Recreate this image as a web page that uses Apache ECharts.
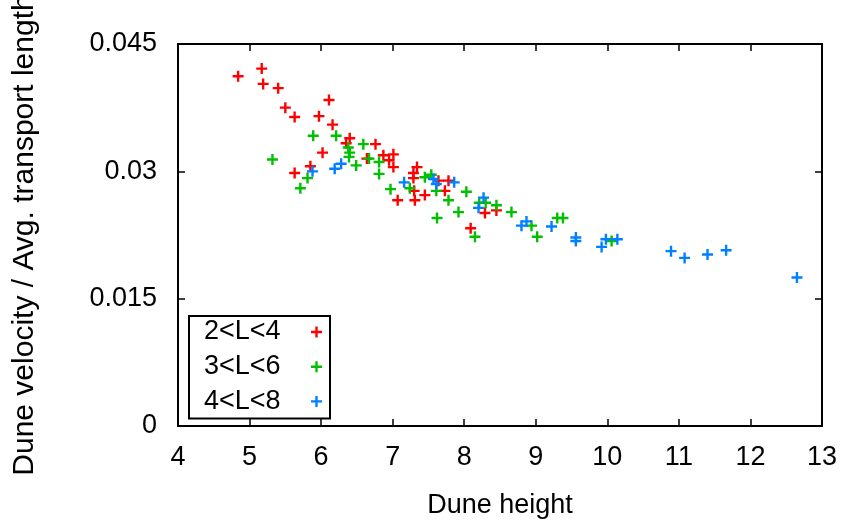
<!DOCTYPE html>
<html>
<head>
<meta charset="utf-8">
<script src="https://cdn.jsdelivr.net/npm/echarts@6/dist/echarts.min.js"></script>
<style>html,body{margin:0;padding:0;background:#fff}#c{width:842px;height:526px}</style>
</head>
<body>
<div id="c"></div>
<script>
const seriesNames = ['2<L<4', '3<L<6', '4<L<8'];
const seriesColors = ['#ff0000', '#00c000', '#0080ff'];
const xTicks = [4, 5, 6, 7, 8, 9, 10, 11, 12, 13];
const yTicks = [0, 0.015, 0.03, 0.045];

const red = [
  [4.84,0.0412],[5.17,0.0421],[5.19,0.0403],[5.40,0.0398],[5.50,0.0375],[5.63,0.0364],
  [6.11,0.0384],[5.97,0.0365],[6.16,0.0355],[6.40,0.0339],[6.35,0.0333],[6.02,0.0322],
  [6.76,0.0332],[5.85,0.0306],[5.63,0.0298],[6.64,0.0315],[6.87,0.0319],[6.95,0.0313],
  [7.01,0.0320],[7.01,0.0305],[7.07,0.0266],[7.34,0.0305],[7.29,0.0298],[7.29,0.0292],
  [7.64,0.0289],[7.78,0.0289],[7.73,0.0277],[7.30,0.0277],[7.31,0.0266],[7.45,0.0272],
  [8.29,0.0251],[8.45,0.0254],[8.09,0.0233]
];
const green = [
  [5.32,0.0314],[5.89,0.0342],[6.21,0.0342],[6.38,0.0328],[6.40,0.0322],[6.39,0.0317],
  [6.49,0.0307],[6.59,0.0332],[6.67,0.0315],[6.81,0.0311],[6.81,0.0297],[6.97,0.0279],
  [5.81,0.0292],[5.71,0.0280],[7.24,0.0280],[7.45,0.0293],[7.54,0.0296],[7.61,0.0277],
  [7.78,0.0266],[7.92,0.0252],[8.03,0.0276],[7.62,0.0245],[8.21,0.0263],[8.30,0.0263],
  [8.45,0.0260],[8.66,0.0252],[8.15,0.0223],[8.94,0.0236],[9.02,0.0223],[9.30,0.0245],
  [9.38,0.0245],[10.06,0.0218]
];
const blue = [
  [5.88,0.0300],[6.19,0.0303],[6.28,0.0309],[7.16,0.0287],[7.57,0.0291],[7.61,0.0285],
  [7.86,0.0287],[8.27,0.0269],[8.20,0.0257],[8.87,0.0241],[8.80,0.0236],[9.22,0.0235],
  [9.56,0.0222],[9.56,0.0218],[9.92,0.0211],[9.98,0.0220],[10.14,0.0220],[10.89,0.0206],
  [11.08,0.0198],[11.40,0.0202],[11.66,0.0207],[12.65,0.0175]
];
const allData = [red, green, blue];

const FONT = 'Liberation Sans, Arial, sans-serif';
const plus = 'path://M4.3,0H6.7V4.3H11V6.7H6.7V11H4.3V6.7H0V4.3H4.3Z';
const fmtY = v => String(+(+v).toFixed(3));

const tick = {show: true, inside: true, length: 7, lineStyle: {color: '#000', width: 1.5}};
const line = {show: true, onZero: false, lineStyle: {color: '#000', width: 2}};

const chart = echarts.init(document.getElementById('c'), null, {renderer: 'canvas'});
chart.setOption({
  animation: false,
  backgroundColor: '#fff',
  grid: {left: 178, right: 20, top: 44, bottom: 100, containLabel: false, outerBoundsMode: 'none'},
  legend: {
    show: true,
    orient: 'vertical',
    left: 189, top: 316,
    align: 'right',
    padding: [2, 8, 3, 15],
    itemGap: 6.7,
    itemWidth: 11, itemHeight: 11,
    borderColor: '#000', borderWidth: 2,
    backgroundColor: '#fff',
    formatter: name => '{t|' + name + '}',
    textStyle: {
      fontFamily: FONT, fontSize: 27, color: '#000', lineHeight: 28,
      rich: {t: {fontFamily: FONT, fontSize: 27, color: '#000', width: 102, align: 'left', lineHeight: 28}}
    },
    data: seriesNames
  },
  xAxis: [{
    type: 'value', min: xTicks[0], max: xTicks[xTicks.length - 1], interval: 1,
    name: 'Dune height', nameLocation: 'middle', nameGap: 66,
    nameTextStyle: {fontFamily: FONT, fontSize: 27, color: '#000'},
    axisLine: line, axisTick: tick,
    axisLabel: {fontFamily: FONT, fontSize: 27, color: '#000', margin: 18},
    splitLine: {show: false}
  }, {
    type: 'value', position: 'top', min: xTicks[0], max: xTicks[xTicks.length - 1], interval: 1,
    axisLine: line, axisTick: tick, axisLabel: {show: false}, splitLine: {show: false}
  }],
  yAxis: [{
    type: 'value', min: yTicks[0], max: yTicks[yTicks.length - 1], interval: 0.015,
    name: 'Dune velocity / Avg. transport length', nameLocation: 'middle', nameGap: 138,
    nameTextStyle: {fontFamily: FONT, fontSize: 30, color: '#000'},
    axisLine: line, axisTick: tick,
    axisLabel: {fontFamily: FONT, fontSize: 27, color: '#000', margin: 21, formatter: fmtY},
    splitLine: {show: false}
  }, {
    type: 'value', position: 'right', min: yTicks[0], max: yTicks[yTicks.length - 1], interval: 0.015,
    axisLine: line, axisTick: tick, axisLabel: {show: false}, splitLine: {show: false}
  }],
  series: seriesNames.map((n, i) => ({
    name: n, type: 'scatter', xAxisIndex: 0, yAxisIndex: 0,
    symbol: plus, symbolSize: 11,
    itemStyle: {color: seriesColors[i], opacity: 1},
    data: allData[i]
  }))
});
</script>
</body>
</html>
